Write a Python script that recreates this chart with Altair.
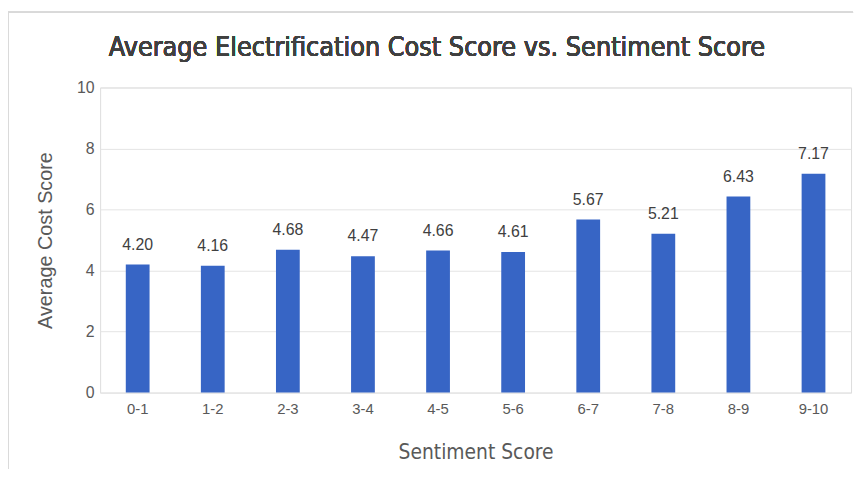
import altair as alt
import pandas as pd

categories = ["0-1", "1-2", "2-3", "3-4", "4-5", "5-6", "6-7", "7-8", "8-9", "9-10"]
values = [4.20, 4.16, 4.68, 4.47, 4.66, 4.61, 5.67, 5.21, 6.43, 7.17]
labels = ["4.20", "4.16", "4.68", "4.47", "4.66", "4.61", "5.67", "5.21", "6.43", "7.17"]
chart_title = "Average Electrification Cost Score vs. Sentiment Score"

df = pd.DataFrame({"cat": categories, "val": values, "lab": labels})

narrow = "Liberation Sans Narrow, DejaVu Sans Condensed, sans-serif"
sans = "Liberation Sans, Arial, sans-serif"

x = alt.X("cat:N", sort=categories, title="Sentiment Score",
          scale=alt.Scale(paddingInner=0.69, paddingOuter=0.345),
          axis=alt.Axis(labelAngle=0, labelFont=sans, labelFontSize=15, labelColor="#595959",
                        labelPadding=9, ticks=False, domain=False,
                        titleFont=narrow, titleFontSize=21, titleFontWeight="normal",
                        titleColor="#595959", titlePadding=26))
y = alt.Y("val:Q", title="Average Cost Score",
          scale=alt.Scale(domain=[0, 10]),
          axis=alt.Axis(values=[0, 2, 4, 6, 8, 10], labelFont=sans, labelFontSize=16,
                        labelColor="#595959", labelPadding=6, ticks=False, domain=False,
                        gridColor="#e4e4e4", gridWidth=1,
                        titleFont=sans, titleFontSize=20, titleFontWeight="normal",
                        titleColor="#595959", titlePadding=21))

bars = alt.Chart(df).mark_bar(color="#3765c5", size=24).encode(x=x, y=y)
text = alt.Chart(df).mark_text(baseline="bottom", dy=-12, font=sans, fontSize=16,
                               color="#404040").encode(
    x=alt.X("cat:N", sort=categories), y="val:Q", text="lab:N")

title = alt.Chart(df).mark_text(font=narrow, fontSize=27, color="#404040",
                                align="center", baseline="alphabetic").encode(
    x=alt.value(340), y=alt.value(-32), text=alt.value(chart_title))

border_top = alt.Chart(df).mark_rule(color="#d9d9d9", strokeWidth=1.5).encode(
    x=alt.value(-93), x2=alt.value(760), y=alt.value(-76))
border_left = alt.Chart(df).mark_rule(color="#d9d9d9", strokeWidth=1.5).encode(
    x=alt.value(-93), y=alt.value(-76), y2=alt.value(385))

chart = alt.layer(border_top, border_left, bars, text, title).properties(
    width=758, height=308,
    autosize=alt.AutoSizeParams(type="none"),
    padding={"left": 93, "top": 78, "right": 6, "bottom": 89},
).configure_view(stroke=None).configure(background="white")

chart.save("out.html", embed_options={"renderer": "svg", "actions": False})
